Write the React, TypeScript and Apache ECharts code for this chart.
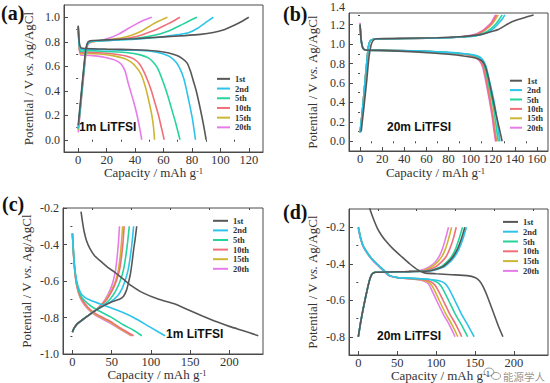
import React, { useEffect, useRef } from 'react';
import * as echarts from 'echarts';

// ---------- legend / cycles ----------
const cycleNames = ['1st', '2nd', '5th', '10th', '15th', '20th'];
const cycleColors = ['#575757', '#2ec3ea', '#27d39c', '#f06f78', '#cdb634', '#e77ce9'];

// ---------- panel (a) 1m LiTFSI : [capacity mAh/g, potential V] ----------
const aDis1st = [[0,0.93],[0.8,0.79],[2,0.75],[5,0.745],[20,0.74],[40,0.735],[55,0.725],[63,0.71],[69,0.69],[73,0.665],[76.4,0.63],[79,0.56],[81,0.48],[83,0.4],[85,0.3],[87,0.19],[88.5,0.1],[90,0]];
const aDis2nd = [[0,0.92],[0.8,0.77],[2,0.74],[5,0.74],[20,0.735],[40,0.73],[52,0.72],[60,0.7],[65,0.675],[69,0.63],[72,0.57],[74.5,0.49],[76.5,0.39],[78.5,0.28],[80.5,0.16],[82.5,0]];
const aDis5th = [[0,0.92],[0.8,0.76],[2,0.72],[5,0.73],[20,0.72],[35,0.71],[43,0.695],[49,0.67],[53,0.63],[56,0.58],[58.5,0.51],[61,0.43],[63.5,0.34],[66,0.24],[68.5,0.14],[71.6,0]];
const aDis10th = [[0,0.92],[0.8,0.75],[2,0.71],[5,0.715],[15,0.71],[25,0.7],[33,0.685],[39,0.66],[43,0.62],[46,0.56],[49,0.48],[51.5,0.4],[54,0.3],[56.5,0.2],[58.5,0.1],[60.5,0]];
const aDis15th = [[0,0.92],[0.8,0.74],[2,0.7],[5,0.705],[15,0.7],[25,0.685],[32,0.665],[37,0.635],[41,0.59],[44,0.54],[46,0.48],[48,0.4],[50,0.3],[51.8,0.2],[53,0.1],[53.7,0]];
const aDis20th = [[0,0.93],[0.8,0.73],[2,0.69],[5,0.69],[12,0.685],[20,0.67],[26,0.65],[30,0.62],[33,0.56],[35,0.47],[37,0.39],[39,0.31],[41,0.22],[43,0.11],[44.7,0]];
const aChg1st = [[0,0.12],[2,0.36],[4,0.6],[5.5,0.75],[7,0.8],[10,0.81],[20,0.815],[40,0.825],[60,0.84],[75,0.85],[86,0.86],[95,0.875],[102,0.895],[109,0.93],[115,0.965],[120,1.0]];
const aChg2nd = [[0,0.1],[2,0.34],[4,0.58],[5.5,0.74],[7,0.79],[10,0.805],[20,0.81],[40,0.82],[55,0.835],[65,0.85],[72,0.86],[78,0.875],[84,0.91],[90,0.96],[95,1.0]];
const aChg5th = [[0,0.09],[2,0.33],[4,0.57],[5.5,0.73],[7,0.79],[10,0.805],[20,0.81],[35,0.82],[48,0.84],[58,0.865],[66,0.9],[73,0.94],[79,0.975],[83.5,1.0]];
const aChg10th = [[0,0.09],[2,0.33],[4,0.57],[5.5,0.73],[7,0.79],[10,0.805],[20,0.81],[30,0.82],[40,0.84],[48,0.87],[55,0.9],[62,0.94],[67,0.97],[71.6,1.0]];
const aChg15th = [[0,0.08],[2,0.32],[4,0.56],[5.5,0.72],[7,0.785],[10,0.8],[20,0.815],[30,0.83],[38,0.855],[45,0.89],[52,0.94],[58,0.975],[62.8,1.0]];
const aChg20th = [[0,0.06],[2,0.3],[4,0.54],[5.5,0.71],[7,0.78],[10,0.8],[16,0.81],[22,0.83],[28,0.86],[34,0.9],[40,0.94],[46,0.975],[51.8,1.0]];

// ---------- panel (b) 20m LiTFSI ----------
const bDis1st = [[0,1.2],[1,1.04],[2.5,0.96],[5,0.94],[20,0.935],[50,0.92],[80,0.895],[95,0.875],[105,0.855],[110,0.83],[113,0.78],[116,0.66],[119.5,0.47],[123,0.28],[126,0.13],[128.5,0]];
const bDis2nd = [[0,1.2],[1,1.04],[2.5,0.96],[5,0.94],[20,0.935],[50,0.93],[80,0.915],[95,0.9],[106,0.88],[111,0.84],[114,0.77],[117.5,0.6],[121,0.42],[123.5,0.25],[125,0.12],[126.5,0]];
const bDis5th = [[0,1.2],[1,1.04],[2.5,0.96],[5,0.94],[20,0.935],[50,0.93],[80,0.912],[95,0.9],[105,0.875],[110,0.835],[113,0.76],[116,0.6],[119.5,0.42],[122,0.25],[123.5,0.12],[125,0]];
const bDis10th = [[0,1.21],[1,1.04],[2.5,0.96],[5,0.94],[20,0.935],[50,0.93],[80,0.91],[95,0.895],[103.5,0.87],[108.5,0.83],[111.5,0.76],[114.5,0.6],[117.5,0.42],[120,0.25],[121.5,0.12],[123,0]];
const bDis15th = [[0,1.2],[1,1.04],[2.5,0.96],[5,0.94],[20,0.935],[50,0.93],[80,0.91],[95,0.895],[104,0.87],[109,0.83],[112,0.76],[115,0.6],[118,0.42],[120.5,0.25],[122,0.12],[123.5,0]];
const bDis20th = [[0,1.22],[1,1.05],[2.5,0.96],[5,0.94],[20,0.935],[50,0.93],[80,0.91],[95,0.895],[103,0.87],[108,0.83],[111,0.76],[114,0.6],[117,0.42],[119.5,0.25],[121,0.12],[122.5,0]];
const bChg1st = [[1,0.1],[3.5,0.35],[6,0.62],[8,0.86],[10,0.99],[12,1.04],[15,1.055],[40,1.06],[70,1.065],[90,1.075],[100,1.085],[110,1.1],[116,1.12],[125,1.15],[134,1.21],[141,1.245],[147,1.265],[152,1.285],[157,1.3]];
const bChg2nd = [[0,0.09],[2,0.3],[4,0.55],[6,0.8],[7.5,0.97],[9,1.03],[12,1.05],[30,1.055],[60,1.06],[80,1.065],[96,1.075],[104,1.085],[110,1.1],[116,1.125],[121,1.165],[125,1.21],[128.5,1.255],[131,1.3]];
const bChg5th = [[0,0.09],[2,0.3],[4,0.55],[6,0.8],[7.5,0.97],[9,1.03],[12,1.05],[30,1.055],[60,1.06],[80,1.065],[95,1.075],[103,1.085],[109,1.1],[114,1.125],[119,1.165],[123,1.21],[126,1.255],[128.5,1.3]];
const bChg10th = [[0,0.09],[2,0.3],[4,0.55],[6,0.8],[7.5,0.97],[9,1.03],[12,1.05],[30,1.055],[60,1.06],[80,1.065],[92,1.075],[100,1.085],[106,1.105],[111,1.135],[115.5,1.175],[119,1.215],[121.5,1.26],[123.5,1.3]];
const bChg15th = [[0,0.09],[2,0.3],[4,0.55],[6,0.8],[7.5,0.97],[9,1.03],[12,1.05],[30,1.055],[60,1.06],[80,1.065],[93,1.075],[101,1.085],[107,1.105],[112,1.135],[116.5,1.175],[120,1.215],[122.5,1.255],[125,1.3]];
const bChg20th = [[0,0.09],[2,0.3],[4,0.55],[6,0.8],[7.5,0.97],[9,1.03],[12,1.05],[30,1.055],[60,1.06],[80,1.065],[92,1.075],[100,1.09],[106,1.11],[111,1.14],[115,1.18],[118.5,1.22],[120.5,1.26],[122.5,1.3]];

// ---------- panel (c) 1m LiTFSI (negative electrode) ----------
const cDis1st = [[11,-0.22],[13,-0.28],[15,-0.33],[18,-0.38],[22,-0.42],[28,-0.46],[35.6,-0.49],[45,-0.525],[55,-0.555],[65,-0.59],[75,-0.625],[90,-0.665],[110,-0.7],[130,-0.725],[146,-0.755],[165,-0.79],[185,-0.825],[201,-0.85],[220,-0.875],[237,-0.9]];
const cDis2nd = [[0,-0.34],[1.5,-0.45],[3,-0.53],[5,-0.59],[8,-0.64],[12,-0.675],[20,-0.7],[35,-0.725],[48,-0.745],[63,-0.77],[78,-0.8],[98,-0.85],[118,-0.9]];
const cDis5th = [[0,-0.34],[1.5,-0.45],[3,-0.53],[5,-0.6],[8,-0.65],[12,-0.69],[20,-0.725],[30,-0.755],[48,-0.795],[65,-0.84],[78,-0.87],[88.5,-0.9]];
const cDis10th = [[0,-0.34],[1.5,-0.46],[3,-0.54],[5,-0.61],[8,-0.66],[12,-0.7],[20,-0.745],[30,-0.78],[48,-0.82],[62,-0.86],[78,-0.9]];
const cDis15th = [[0,-0.34],[1.5,-0.46],[3,-0.54],[5,-0.61],[8,-0.665],[12,-0.705],[20,-0.75],[30,-0.785],[48,-0.825],[62,-0.865],[76,-0.9]];
const cDis20th = [[0,-0.34],[1.5,-0.46],[3,-0.545],[5,-0.615],[8,-0.67],[12,-0.71],[20,-0.755],[30,-0.79],[48,-0.83],[62,-0.868],[75,-0.9]];
const cChg1st = [[0,-0.88],[2,-0.86],[6,-0.835],[12,-0.815],[20,-0.79],[30,-0.76],[40,-0.735],[50,-0.715],[60,-0.7],[65,-0.685],[69,-0.65],[72,-0.6],[74,-0.56],[76,-0.5],[78,-0.43],[80,-0.37],[82,-0.3]];
const cChg2nd = [[0,-0.88],[2,-0.86],[6,-0.835],[12,-0.815],[20,-0.79],[30,-0.76],[40,-0.735],[50,-0.71],[58,-0.68],[63,-0.645],[67,-0.6],[71,-0.54],[74,-0.46],[76.3,-0.38],[78,-0.3]];
const cChg5th = [[0,-0.88],[2,-0.86],[6,-0.835],[12,-0.815],[20,-0.79],[30,-0.76],[40,-0.73],[48,-0.7],[55,-0.655],[60,-0.61],[64.5,-0.55],[67.5,-0.48],[70.3,-0.39],[72.5,-0.3]];
const cChg10th = [[0,-0.88],[2,-0.86],[6,-0.835],[12,-0.815],[20,-0.79],[28,-0.765],[36,-0.735],[44,-0.7],[51,-0.65],[56,-0.6],[60,-0.54],[62.5,-0.47],[64.5,-0.39],[66,-0.3]];
const cChg15th = [[0,-0.88],[2,-0.86],[6,-0.835],[12,-0.815],[20,-0.79],[28,-0.765],[36,-0.735],[43,-0.7],[50,-0.65],[55,-0.6],[58.5,-0.54],[60.8,-0.47],[62.5,-0.39],[64,-0.3]];
const cChg20th = [[0,-0.88],[2,-0.86],[6,-0.835],[12,-0.815],[20,-0.79],[28,-0.765],[36,-0.735],[42,-0.7],[48,-0.65],[52,-0.6],[55,-0.54],[57,-0.47],[58.7,-0.39],[60,-0.3]];

// ---------- panel (d) 20m LiTFSI (negative electrode) ----------
const dDis1st = [[14,-0.08],[15.4,-0.107],[20,-0.16],[25,-0.21],[30,-0.245],[34.6,-0.271],[45,-0.32],[56,-0.362],[66,-0.4],[77,-0.435],[85,-0.45],[100,-0.455],[120,-0.46],[140,-0.465],[150,-0.475],[156,-0.495],[161,-0.53],[167,-0.59],[174,-0.67],[180,-0.74],[186,-0.8]];
const dDis2nd = [[0,-0.2],[3,-0.26],[6,-0.3],[10,-0.33],[15,-0.36],[20,-0.385],[25,-0.405],[30,-0.425],[35,-0.445],[40,-0.465],[50,-0.475],[70,-0.48],[90,-0.485],[105,-0.495],[112,-0.51],[117,-0.54],[124,-0.6],[132,-0.67],[140,-0.73],[149,-0.8]];
const dDis5th = [[0,-0.2],[3,-0.26],[6,-0.3],[10,-0.33],[15,-0.36],[20,-0.385],[25,-0.405],[30,-0.425],[35,-0.445],[40,-0.465],[50,-0.475],[70,-0.48],[90,-0.485],[98,-0.495],[104,-0.51],[109,-0.54],[116,-0.6],[124,-0.67],[132,-0.73],[140.6,-0.8]];
const dDis10th = [[0,-0.2],[3,-0.26],[6,-0.3],[10,-0.33],[15,-0.36],[20,-0.385],[25,-0.405],[30,-0.425],[35,-0.445],[40,-0.465],[50,-0.475],[70,-0.482],[85,-0.488],[91,-0.495],[97,-0.51],[102,-0.54],[109,-0.6],[117,-0.67],[125,-0.73],[133,-0.8]];
const dDis15th = [[0,-0.2],[3,-0.26],[6,-0.3],[10,-0.33],[15,-0.36],[20,-0.385],[25,-0.405],[30,-0.425],[35,-0.445],[40,-0.465],[50,-0.475],[65,-0.482],[80,-0.488],[87,-0.495],[93,-0.51],[97.5,-0.54],[104,-0.6],[112,-0.67],[120,-0.73],[128,-0.8]];
const dDis20th = [[0,-0.21],[3,-0.265],[6,-0.305],[10,-0.335],[15,-0.365],[20,-0.39],[25,-0.41],[30,-0.43],[35,-0.45],[40,-0.467],[50,-0.476],[65,-0.482],[78,-0.488],[84,-0.495],[90,-0.51],[94,-0.54],[100.5,-0.6],[108.5,-0.67],[116.5,-0.73],[124.4,-0.8]];
const dChg1st = [[0,-0.8],[3,-0.72],[6.8,-0.635],[10,-0.57],[13.2,-0.51],[15.5,-0.475],[18,-0.455],[22,-0.447],[40,-0.445],[65,-0.443],[90,-0.44],[100,-0.43],[109,-0.415],[116,-0.39],[122,-0.36],[127.5,-0.32],[132.5,-0.265],[137,-0.2]];
const dChg2nd = [[0,-0.8],[3,-0.72],[6.8,-0.635],[10,-0.57],[13.2,-0.51],[15.5,-0.475],[18,-0.455],[22,-0.447],[40,-0.445],[65,-0.443],[92,-0.44],[102,-0.43],[111,-0.415],[118,-0.39],[124,-0.36],[129.5,-0.32],[134.5,-0.265],[139,-0.2]];
const dChg5th = [[0,-0.8],[3,-0.72],[6.8,-0.635],[10,-0.57],[13.2,-0.51],[15.5,-0.475],[18,-0.455],[22,-0.447],[40,-0.445],[65,-0.443],[88,-0.44],[98,-0.43],[107,-0.415],[114,-0.39],[120,-0.36],[125,-0.32],[129.5,-0.265],[134,-0.2]];
const dChg10th = [[0,-0.8],[3,-0.72],[6.8,-0.635],[10,-0.57],[13.2,-0.51],[15.5,-0.475],[18,-0.455],[22,-0.447],[40,-0.445],[65,-0.443],[82,-0.44],[92,-0.43],[100,-0.415],[107,-0.39],[113,-0.36],[117.5,-0.32],[122,-0.265],[126,-0.2]];
const dChg15th = [[0,-0.8],[3,-0.72],[6.8,-0.635],[10,-0.57],[13.2,-0.51],[15.5,-0.475],[18,-0.455],[22,-0.447],[40,-0.445],[60,-0.443],[78,-0.44],[88,-0.43],[95,-0.415],[102,-0.39],[107.5,-0.36],[112,-0.32],[116,-0.265],[120,-0.2]];
const dChg20th = [[0,-0.8],[3,-0.72],[6.8,-0.635],[10,-0.57],[13.2,-0.51],[15.5,-0.475],[18,-0.455],[22,-0.447],[40,-0.445],[60,-0.443],[75,-0.44],[85,-0.43],[92,-0.415],[99,-0.39],[104,-0.36],[108,-0.32],[112,-0.265],[116,-0.2]];

// ---------- ticks ----------
const xTicksA = [0, 20, 40, 60, 80, 100, 120];
const yTicksA = [0, 0.2, 0.4, 0.6, 0.8, 1.0];
const xMinorA = [10, 30, 50, 70, 90, 110];
const yMinorA = [0.1, 0.3, 0.5, 0.7, 0.9];
const xTicksB = [0, 20, 40, 60, 80, 100, 120, 140, 160];
const yTicksB = [0, 0.2, 0.4, 0.6, 0.8, 1.0, 1.2];
const xMinorB = [10, 30, 50, 70, 90, 110, 130, 150];
const yMinorB = [0.1, 0.3, 0.5, 0.7, 0.9, 1.1, 1.3];
const xTicksC = [0, 50, 100, 150, 200];
const yTicksC = [-1.0, -0.8, -0.6, -0.4, -0.2];
const xMinorC = [25, 75, 125, 175, 225];
const yMinorC = [-0.9, -0.7, -0.5, -0.3];
const xTicksD = [0, 50, 100, 150, 200];
const yTicksD = [-0.8, -0.6, -0.4, -0.2];
const xMinorD = [25, 75, 125, 175, 225];
const yMinorD = [-0.7, -0.5, -0.3];

const panelTags = ['(a)', '(b)', '(c)', '(d)'];
const panelNotes = ['1m LiTFSI', '20m LiTFSI', '1m LiTFSI', '20m LiTFSI'];

const SERIF = 'Liberation Serif, DejaVu Serif, serif';
const SANS = 'Liberation Sans, Arial, sans-serif';

const panels = [
  {
    grid: { left: 64, top: 5, width: 199, height: 147 },
    xr: [-10, 130], yr: [-0.1, 1.1],
    xt: xTicksA, yt: yTicksA, xm: xMinorA, ym: yMinorA,
    curves: [[aDis1st, aChg1st], [aDis2nd, aChg2nd], [aDis5th, aChg5th], [aDis10th, aChg10th], [aDis15th, aChg15th], [aDis20th, aChg20th]],
    yGap: 29, xGap: 14, xPadR: 20,
    lg: { left: 217, top: 74, w: 13, lh: 9.7 },
    tag: { x: 1, y: 14 }, note: { x: 79, y: 128 },
  },
  {
    grid: { left: 349, top: 13, width: 199, height: 138 },
    xr: [-10, 170], yr: [-0.1, 1.32],
    xt: xTicksB, yt: yTicksB, xm: xMinorB, ym: yMinorB,
    curves: [[bDis1st, bChg1st], [bDis2nd, bChg2nd], [bDis5th, bChg5th], [bDis10th, bChg10th], [bDis15th, bChg15th], [bDis20th, bChg20th]],
    yGap: 30, xGap: 15, xPadR: 26,
    lg: { left: 510, top: 76, w: 12, lh: 9.4 },
    tag: { x: 283, y: 15 }, note: { x: 387, y: 128 },
  },
  {
    grid: { left: 63, top: 208, width: 200, height: 146 },
    xr: [-12, 243], yr: [-1.0, -0.2],
    xt: xTicksC, yt: yTicksC, xm: xMinorC, ym: yMinorC,
    curves: [[cDis1st, cChg1st], [cDis2nd, cChg2nd], [cDis5th, cChg5th], [cDis10th, cChg10th], [cDis15th, cChg15th], [cDis20th, cChg20th]],
    yGap: 30, xGap: 14, xPadR: 12,
    lg: { left: 213, top: 216, w: 15, lh: 9.6 },
    tag: { x: 2, y: 205 }, note: { x: 166, y: 335 },
  },
  {
    grid: { left: 349, top: 209, width: 199, height: 146 },
    xr: [-12, 244], yr: [-0.9, -0.1],
    xt: xTicksD, yt: yTicksD, xm: xMinorD, ym: yMinorD,
    curves: [[dDis1st, dChg1st], [dDis2nd, dChg2nd], [dDis5th, dChg5th], [dDis10th, dChg10th], [dDis15th, dChg15th], [dDis20th, dChg20th]],
    yGap: 30, xGap: 14, xPadR: 16,
    lg: { left: 503, top: 217, w: 15, lh: 9.8 },
    tag: { x: 283, y: 213 }, note: { x: 377, y: 337 },
  },
];

const AXIS_COLOR = '#4a4a4a';
const LABEL_COLOR = '#333';

function buildOption() {
  const grid: any[] = [];
  const xAxis: any[] = [];
  const yAxis: any[] = [];
  const series: any[] = [];
  const legend: any[] = [];
  const graphic: any[] = [];

  panels.forEach((p, i) => {
    grid.push({ ...p.grid, show: true, borderColor: AXIS_COLOR, borderWidth: 1, backgroundColor: 'transparent', containLabel: false });
    xAxis.push({
      type: 'value', gridIndex: i, min: p.xr[0], max: p.xr[1],
      axisLine: { show: true, onZero: false, lineStyle: { color: AXIS_COLOR, width: 1 } },
      axisTick: { show: true, inside: true, length: 4, customValues: p.xt, lineStyle: { color: AXIS_COLOR } },
      axisLabel: { customValues: p.xt, margin: 2, fontFamily: SERIF, fontSize: 12.5, lineHeight: 11, color: LABEL_COLOR, formatter: (v: number) => String(v) },
      splitLine: { show: false },
      name: 'Capacity / mAh g{s|-1}', nameLocation: 'middle', nameGap: p.xGap, nameMoveOverlap: false,
      nameTextStyle: {
        fontFamily: SERIF, fontSize: 13, color: LABEL_COLOR, padding: [0, p.xPadR, 0, 0], lineHeight: 13,
        rich: { s: { fontFamily: SERIF, fontSize: 8.5, color: LABEL_COLOR, verticalAlign: 'top', lineHeight: 13 } },
      },
    });
    xAxis.push({
      type: 'value', gridIndex: i, min: p.xr[0], max: p.xr[1],
      axisLine: { show: false },
      axisTick: { show: true, inside: true, length: 2, customValues: p.xm, lineStyle: { color: AXIS_COLOR } },
      axisLabel: { show: false, customValues: p.xm },
      splitLine: { show: false },
    });
    yAxis.push({
      type: 'value', gridIndex: i, min: p.yr[0], max: p.yr[1],
      axisLine: { show: true, onZero: false, lineStyle: { color: AXIS_COLOR, width: 1 } },
      axisTick: { show: true, inside: true, length: 4, customValues: p.yt, lineStyle: { color: AXIS_COLOR } },
      axisLabel: { customValues: p.yt, margin: 4, fontFamily: SERIF, fontSize: 12, color: LABEL_COLOR, formatter: (v: number) => v.toFixed(1) },
      splitLine: { show: false },
      name: 'Potential / V {i|vs.} Ag/AgCl', nameLocation: 'middle', nameGap: p.yGap, nameMoveOverlap: false,
      nameTextStyle: {
        fontFamily: SERIF, fontSize: 13, color: LABEL_COLOR, lineHeight: 13,
        rich: { i: { fontFamily: SERIF, fontSize: 13, fontStyle: 'italic', color: LABEL_COLOR, lineHeight: 13 } },
      },
    });
    yAxis.push({
      type: 'value', gridIndex: i, min: p.yr[0], max: p.yr[1],
      axisLine: { show: false },
      axisTick: { show: true, inside: true, length: 2, customValues: p.ym, lineStyle: { color: AXIS_COLOR } },
      axisLabel: { show: false, customValues: p.ym },
      splitLine: { show: false },
    });

    p.curves.forEach((branches, k) => {
      branches.forEach((data) => {
        series.push({
          type: 'line', name: cycleNames[k], xAxisIndex: 2 * i, yAxisIndex: 2 * i,
          data, symbol: 'none', showSymbol: false, smooth: 0.2, clip: true,
          lineStyle: { width: 1.6, color: cycleColors[k] }, itemStyle: { color: cycleColors[k] },
          z: 10 - k,
        });
      });
    });

    legend.push({
      data: cycleNames, orient: 'vertical', left: p.lg.left, top: p.lg.top, padding: 0, itemGap: 0,
      itemWidth: p.lg.w, itemHeight: 2, icon: 'rect', selectedMode: false,
      textStyle: { fontFamily: SERIF, fontWeight: 'bold', fontSize: 8.5, lineHeight: p.lg.lh, color: LABEL_COLOR },
    });

    graphic.push({
      type: 'text', left: p.tag.x, top: p.tag.y - 11,
      style: { text: panelTags[i], fontFamily: SERIF, fontWeight: 'bold', fontSize: 20, fill: '#111' },
    });
    graphic.push({
      type: 'text', left: p.note.x, top: p.note.y - 7,
      style: { text: panelNotes[i], fontFamily: SANS, fontWeight: 'bold', fontSize: 12, fill: '#111' },
    });
  });

  // "1.4" tick label of panel (b) that sits above the frame
  graphic.push({ type: 'text', x: 345, y: 7, style: { text: '1.4', fontFamily: SERIF, fontSize: 12, fill: LABEL_COLOR, align: 'right', verticalAlign: 'middle' } });
  // watermark
  graphic.push({ type: 'ellipse', shape: { cx: 489, cy: 372, rx: 5, ry: 4 }, style: { fill: 'none', stroke: 'rgba(120,120,120,0.7)', lineWidth: 1 } });
  graphic.push({ type: 'ellipse', shape: { cx: 496, cy: 376, rx: 4.5, ry: 3.5 }, style: { fill: 'none', stroke: 'rgba(120,120,120,0.7)', lineWidth: 1 } });
  graphic.push({ type: 'text', x: 503, y: 376, style: { text: '能源学人', fontFamily: 'Noto Sans CJK SC, sans-serif', fontSize: 10.5, fill: 'rgba(110,110,110,0.75)', verticalAlign: 'middle' } });

  return { animation: false, backgroundColor: '#fff', grid, xAxis, yAxis, series, legend, graphic };
}

export default function App() {
  const ref = useRef<HTMLDivElement>(null);
  useEffect(() => {
    if (!ref.current) return;
    const chart = echarts.init(ref.current, null, { renderer: 'svg' });
    chart.setOption(buildOption() as any);
    return () => chart.dispose();
  }, []);
  return <div ref={ref} style={{ position: 'absolute', left: 0, top: 0, width: 550, height: 383, background: '#fff' }} />;
}
